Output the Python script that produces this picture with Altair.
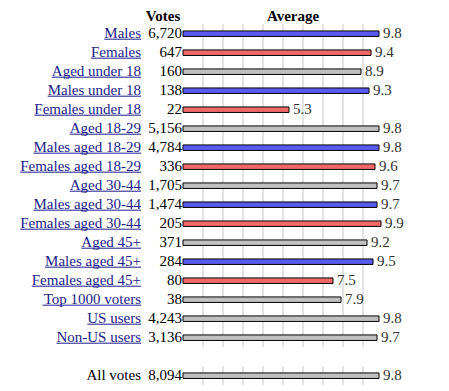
import altair as alt
import pandas as pd

labels = ["Males", "Females", "Aged under 18", "Males under 18", "Females under 18",
          "Aged 18-29", "Males aged 18-29", "Females aged 18-29", "Aged 30-44",
          "Males aged 30-44", "Females aged 30-44", "Aged 45+", "Males aged 45+",
          "Females aged 45+", "Top 1000 voters", "US users", "Non-US users", "All votes"]
votes = [6720, 647, 160, 138, 22, 5156, 4784, 336, 1705, 1474, 205, 371, 284, 80, 38,
         4243, 3136, 8094]
average = [9.8, 9.4, 8.9, 9.3, 5.3, 9.8, 9.8, 9.6, 9.7, 9.7, 9.9, 9.2, 9.5, 7.5, 7.9,
           9.8, 9.7, 9.8]
group = ["male", "female", "all", "male", "female", "all", "male", "female", "all",
         "male", "female", "all", "male", "female", "all", "all", "all", "all"]
is_link = [True] * 17 + [False]
rows = list(range(17)) + [18]   # a blank row before "All votes"
grid_values = [1, 2, 3, 4, 5, 6, 7, 8, 9]

FONT = "Liberation Serif"
FS = 15
# Times / Liberation Serif advance widths (per 1000 em) for underline lengths
W = {' ': 250, '+': 564, '-': 333, ',': 250, '.': 250, 'A': 722, 'F': 556, 'M': 889,
     'N': 722, 'S': 556, 'T': 611, 'U': 722, 'a': 444, 'd': 500, 'e': 444, 'g': 500,
     'l': 278, 'm': 778, 'n': 500, 'o': 500, 'p': 500, 'r': 333, 's': 389, 't': 278,
     'u': 500, 'v': 500}
for ch in "0123456789":
    W[ch] = 500


def text_width(s):
    return sum(W.get(c, 500) for c in s) * FS / 1000.0


LABEL_RIGHT = 133
VOTES_RIGHT = 174
PX = alt.Scale(domain=[0, 425], range=[0, 425])

df = pd.DataFrame({"label": labels, "votes": votes, "avg": average,
                   "group": group, "row": rows, "link": is_link})
df["uw"] = [text_width(s) for s in labels]
df["ux"] = LABEL_RIGHT - df["uw"]

grid = pd.DataFrame([{"row": r, "g": g} for r in rows for g in grid_values])

xs = alt.Scale(domain=[0, 10], range=[175, 375])
ys = alt.Scale(domain=[-0.5, 18.5], range=[16.2, 377.2])

base = alt.Chart(df)

grid_rules = alt.Chart(grid).transform_calculate(
    y1="datum.row - 0.5", y2="datum.row + 0.5"
).mark_rule(color="#c8c8c8", strokeWidth=1).encode(
    x=alt.X("g:Q", scale=xs, axis=None),
    y=alt.Y("y1:Q", scale=ys, axis=None),
    y2="y2:Q",
)

bars = base.transform_calculate(
    b1="datum.row - 2.75/19", b2="datum.row + 2.75/19", zero="0"
).mark_rect(stroke="black", strokeWidth=1).encode(
    x=alt.X("zero:Q", scale=xs, axis=None),
    x2="avg:Q",
    y=alt.Y("b1:Q", scale=ys, axis=None),
    y2="b2:Q",
    fill=alt.Fill("group:N", scale=alt.Scale(domain=["male", "female", "all"],
                                             range=["#5a5af0", "#f06a6a", "#c0c0c0"]),
                  legend=None),
)

val_text = base.mark_text(align="left", baseline="alphabetic", dx=4, dy=4,
                          font=FONT, fontSize=FS, color="#333333").encode(
    x=alt.X("avg:Q", scale=xs, axis=None),
    y=alt.Y("row:Q", scale=ys, axis=None),
    text=alt.Text("avg:Q", format=".1f"),
)

vote_text = base.mark_text(align="right", baseline="alphabetic", dy=4,
                           font=FONT, fontSize=FS, color="black").encode(
    x=alt.value(VOTES_RIGHT),
    y=alt.Y("row:Q", scale=ys, axis=None),
    text=alt.Text("votes:Q", format=","),
)

label_text = base.mark_text(align="right", baseline="alphabetic", dy=4,
                            font=FONT, fontSize=FS).encode(
    x=alt.value(LABEL_RIGHT),
    y=alt.Y("row:Q", scale=ys, axis=None),
    text="label:N",
    color=alt.condition("datum.link", alt.value("#1c1c8a"), alt.value("black")),
)

underline = base.transform_filter("datum.link").transform_calculate(
    uy="datum.row + 5.5/19", ux2="%d" % LABEL_RIGHT
).mark_rule(color="#1c1c8a", strokeWidth=1).encode(
    x=alt.X("ux:Q", scale=PX, axis=None),
    x2="ux2:Q",
    y=alt.Y("uy:Q", scale=ys, axis=None),
)

headers = pd.DataFrame({"h": ["Votes", "Average"], "hx": [155, 285]})
head_text = alt.Chart(headers).mark_text(
    align="center", baseline="alphabetic", font=FONT, fontSize=FS, fontWeight="bold",
    color="black").encode(
    x=alt.X("hx:Q", scale=PX, axis=None),
    y=alt.value(13),
    text="h:N",
)

chart = alt.layer(grid_rules, bars, val_text, vote_text, label_text, underline,
                  head_text).resolve_scale(x="independent").properties(
    width=425, height=378, padding=0,
    autosize=alt.AutoSizeParams(type="none"),
).configure_view(stroke=None)

chart.save("out.html", embed_options={"renderer": "svg", "actions": False})
